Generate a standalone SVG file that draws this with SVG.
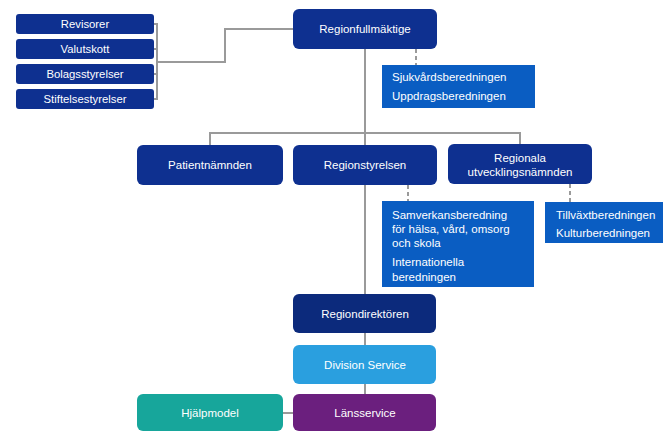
<svg xmlns="http://www.w3.org/2000/svg" width="664" height="431" viewBox="0 0 664 431">
<style>
text{font-family:"Liberation Sans",Arial,sans-serif;fill:#fff;}
.c{text-anchor:middle;font-size:11.5px;}
.s{font-size:11.5px;}
.l{text-anchor:middle;font-size:11.3px;}
.navy{fill:#0e3090;}
.sub{fill:#0a5dc2;}
.ln{fill:none;stroke:#9a9a9a;stroke-width:2;}
.dash{fill:none;stroke:#9a9a9a;stroke-width:2;stroke-dasharray:4 3;}
</style>
<rect width="664" height="431" fill="#fff"/>
<g id="connectors">
<path class="ln" d="M154 24 H157 V99 H154 M154 49 H157 M154 74 H157 M157 62 H225 V29 H293"/>
<path class="ln" d="M365 49 V294"/>
<path class="ln" d="M210 145 V133 H520 V144"/>
<path class="ln" d="M365 333 V345 M365 384 V394 M283 413 H293"/>
<path class="dash" d="M416 49 V65"/>
<path class="dash" d="M408 185 V201"/>
<path class="dash" d="M570 184 V202"/>
</g>
<g id="revisorer"><rect class="navy" x="16" y="14" width="138" height="20" rx="3"/><text class="l" x="85" y="28">Revisorer</text></g>
<g id="valutskott"><rect class="navy" x="16" y="39" width="138" height="20" rx="3"/><text class="l" x="85" y="53">Valutskott</text></g>
<g id="bolagsstyrelser"><rect class="navy" x="16" y="64" width="138" height="20" rx="3"/><text class="l" x="85" y="78">Bolagsstyrelser</text></g>
<g id="stiftelsestyrelser"><rect class="navy" x="16" y="89" width="138" height="20" rx="3"/><text class="l" x="85" y="103">Stiftelsestyrelser</text></g>
<g id="regionfullmaktige"><rect class="navy" x="293" y="9" width="144" height="40" rx="6"/><text class="c" x="365" y="33">Regionfullmäktige</text></g>
<g id="beredningar1"><rect class="sub" x="382" y="65" width="153" height="43"/><text class="s" x="392" y="81">Sjukvårdsberedningen</text><text class="s" x="392" y="100">Uppdragsberedningen</text></g>
<g id="patientnamnden"><rect class="navy" x="137" y="145" width="146" height="40" rx="6"/><text class="c" x="210" y="169">Patientnämnden</text></g>
<g id="regionstyrelsen"><rect class="navy" x="293" y="145" width="144" height="40" rx="6"/><text class="c" x="365" y="169">Regionstyrelsen</text></g>
<g id="regionala"><rect class="navy" x="448" y="144" width="144" height="40" rx="6"/><text class="c" x="520" y="162">Regionala</text><text class="c" x="520" y="176">utvecklingsnämnden</text></g>
<g id="beredningar2"><rect class="sub" x="382" y="201" width="152" height="86"/><text class="s" x="392" y="219">Samverkansberedning</text><text class="s" x="392" y="233">för hälsa, vård, omsorg</text><text class="s" x="392" y="247">och skola</text><text class="s" x="392" y="266">Internationella</text><text class="s" x="392" y="281">beredningen</text></g>
<g id="beredningar3"><rect class="sub" x="545" y="202" width="118" height="41"/><text class="s" x="556" y="219">Tillväxtberedningen</text><text class="s" x="556" y="237">Kulturberedningen</text></g>
<g id="regiondirektoren"><rect fill="#0c2a7c" x="293" y="294" width="143" height="39" rx="6"/><text class="c" x="365" y="318">Regiondirektören</text></g>
<g id="divisionservice"><rect fill="#2a9fdf" x="293" y="345" width="143" height="39" rx="6"/><text class="c" x="365" y="369">Division Service</text></g>
<g id="hjalpmodel"><rect fill="#17a69b" x="137" y="394" width="146" height="37" rx="6"/><text class="c" x="210" y="417">Hjälpmodel</text></g>
<g id="lansservice"><rect fill="#6b1f7e" x="293" y="394" width="143" height="37" rx="6"/><text class="c" x="365" y="417">Länsservice</text></g>
</svg>
